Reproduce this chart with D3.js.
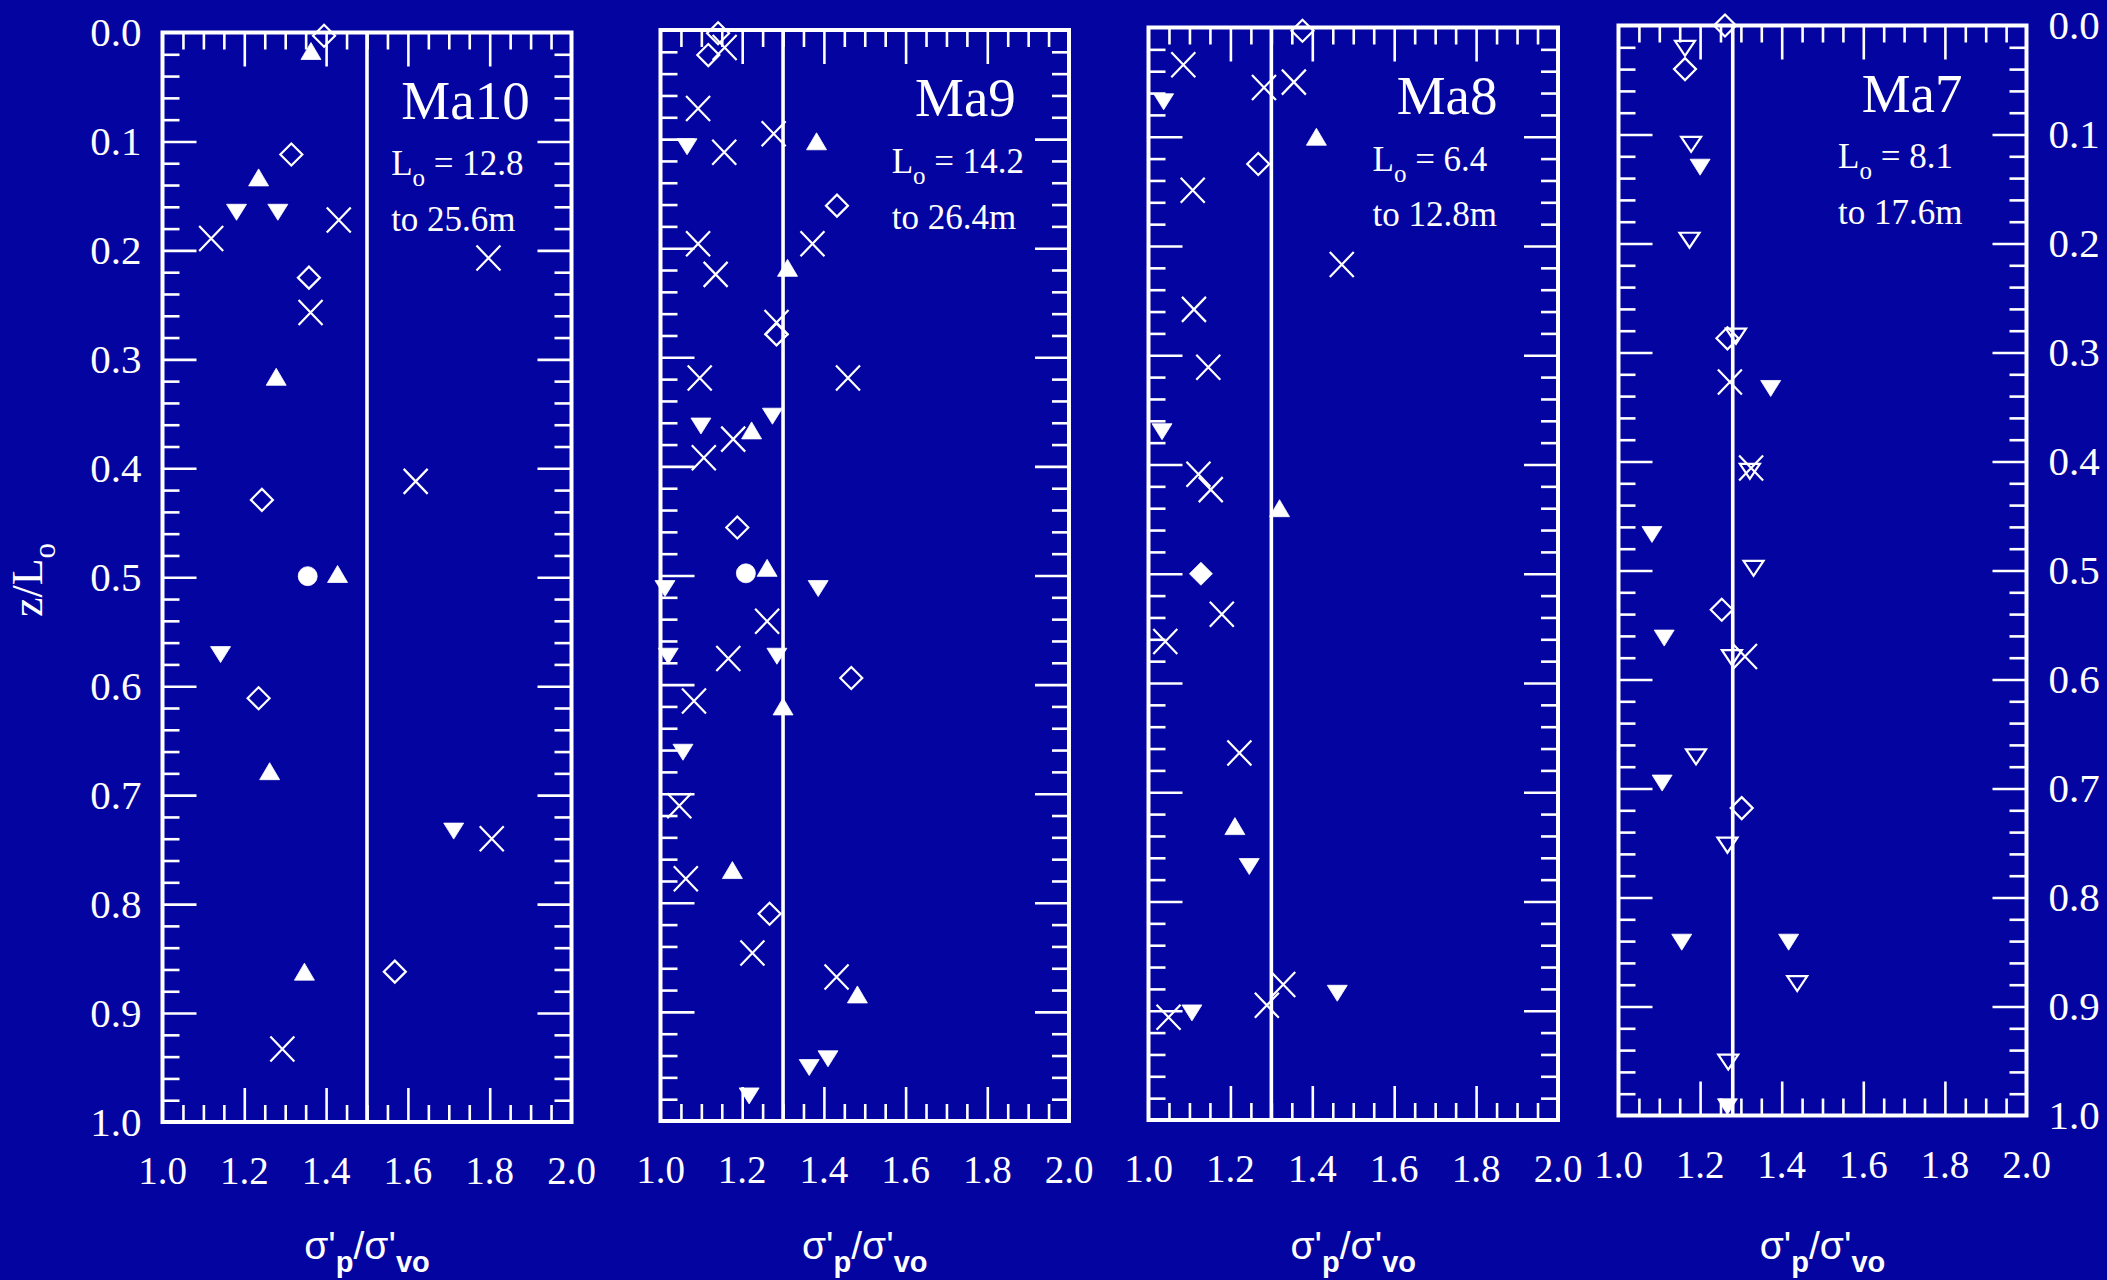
<!DOCTYPE html>
<html>
<head>
<meta charset="utf-8">
<script src="https://cdn.jsdelivr.net/npm/d3@7/dist/d3.min.js"></script>
<style>
  html, body { margin: 0; padding: 0; background: #0404A0; }
  svg { display: block; }
</style>
</head>
<body>
<script>
// ---------------- DATA ----------------
const panelNames = ["Ma10", "Ma9", "Ma8", "Ma7"];
const loFrom = ["12.8", "14.2", "6.4", "8.1"];
const loTo = ["25.6m", "26.4m", "12.8m", "17.6m"];
const refValues = [1.5, 1.3, 1.3, 1.28];
const xTickLabels = ["1.0", "1.2", "1.4", "1.6", "1.8", "2.0"];
const yTickLabels = ["0.0", "0.1", "0.2", "0.3", "0.4", "0.5", "0.6", "0.7", "0.8", "0.9", "1.0"];

// [sigma'p/sigma'vo, z/Lo]
const ma10TriUp = [[1.363,0.017],[1.235,0.133],[1.278,0.316],[1.428,0.497],[1.262,0.678],[1.347,0.862]];
const ma10TriDown = [[1.181,0.165],[1.282,0.165],[1.142,0.571],[1.712,0.733]];
const ma10Cross = [[1.431,0.172],[1.119,0.189],[1.797,0.207],[1.362,0.257],[1.619,0.412],[1.805,0.740],[1.293,0.933]];
const ma10Diamond = [[1.395,0.003],[1.315,0.112],[1.358,0.225],[1.243,0.429],[1.235,0.611],[1.568,0.862]];
const ma10Circle = [[1.355,0.499]];

const ma9TriUp = [[1.382,0.102],[1.311,0.218],[1.223,0.367],[1.261,0.493],[1.300,0.620],[1.176,0.770],[1.482,0.884]];
const ma9TriDown = [[1.065,0.107],[1.274,0.354],[1.099,0.363],[1.011,0.512],[1.386,0.512],[1.019,0.574],[1.285,0.574],[1.055,0.662],[1.410,0.943],[1.364,0.951],[1.217,0.977]];
const ma9Cross = [[1.157,0.016],[1.092,0.072],[1.277,0.095],[1.156,0.112],[1.092,0.196],[1.372,0.196],[1.135,0.224],[1.284,0.268],[1.096,0.319],[1.459,0.319],[1.178,0.375],[1.106,0.392],[1.261,0.542],[1.166,0.576],[1.082,0.615],[1.046,0.711],[1.062,0.778],[1.225,0.846],[1.431,0.868]];
const ma9Diamond = [[1.141,0.003],[1.117,0.023],[1.432,0.161],[1.284,0.279],[1.188,0.456],[1.467,0.594],[1.267,0.810]];
const ma9Circle = [[1.209,0.498]];

const ma8TriUp = [[1.410,0.100],[1.320,0.440],[1.211,0.731]];
const ma8TriDown = [[1.037,0.068],[1.033,0.370],[1.246,0.768],[1.461,0.884],[1.106,0.902]];
const ma8Cross = [[1.085,0.034],[1.282,0.055],[1.355,0.050],[1.108,0.149],[1.472,0.217],[1.111,0.258],[1.146,0.311],[1.122,0.409],[1.152,0.423],[1.179,0.537],[1.041,0.562],[1.222,0.664],[1.329,0.876],[1.289,0.895],[1.049,0.906]];
const ma8Diamond = [[1.376,0.003],[1.268,0.125]];
const ma8DiamondFilled = [[1.128,0.500]];

const ma7TriDown = [[1.200,0.130],[1.373,0.333],[1.082,0.467],[1.112,0.562],[1.107,0.695],[1.155,0.841],[1.417,0.841],[1.267,0.992]];
const ma7TriDownOpen = [[1.163,0.021],[1.178,0.109],[1.174,0.197],[1.288,0.285],[1.322,0.409],[1.331,0.498],[1.278,0.580],[1.190,0.671],[1.267,0.752],[1.438,0.879],[1.269,0.951]];
const ma7Cross = [[1.273,0.327],[1.325,0.406],[1.310,0.579]];
const ma7Diamond = [[1.261,0.000],[1.163,0.040],[1.267,0.287],[1.253,0.536],[1.302,0.718]];

const panelSeries = [
  {triUp: ma10TriUp, triDown: ma10TriDown, cross: ma10Cross, diamond: ma10Diamond, circle: ma10Circle},
  {triUp: ma9TriUp, triDown: ma9TriDown, cross: ma9Cross, diamond: ma9Diamond, circle: ma9Circle},
  {triUp: ma8TriUp, triDown: ma8TriDown, cross: ma8Cross, diamond: ma8Diamond, diamondFilled: ma8DiamondFilled},
  {triDown: ma7TriDown, triDownOpen: ma7TriDownOpen, cross: ma7Cross, diamond: ma7Diamond}
];

// ---------------- LAYOUT ----------------
const W = 2107, H = 1280;
const BG = "#0404A0";
const frames = [
  {l: 162.5, r: 571.5, t: 32.5, b: 1122},
  {l: 660.5, r: 1069, t: 30, b: 1121},
  {l: 1148.5, r: 1558, t: 27.5, b: 1120},
  {l: 1618.5, r: 2026.5, t: 25.5, b: 1115.5}
];
const annotX = {ma: [1.584, 1.623, 1.606, 1.596], lo: [1.559, 1.566, 1.547, 1.538]};
const SERIF = "'Liberation Serif', 'Times New Roman', serif";
const SANS = "'Liberation Sans', Arial, sans-serif";

const svg = d3.select("body").append("svg").attr("width", W).attr("height", H);
svg.append("rect").attr("width", W).attr("height", H).attr("fill", BG);

// symbol shapes (centered)
const shapes = {
  triUp: "M0,-8.5L10,8.5L-10,8.5Z",
  triDown: "M-10,-8L10,-8L0,8Z",
  triDownOpen: "M-10,-7.5L10,-7.5L0,7.5Z",
  cross: "M-12,-12.5L12,12.5M-12,12.5L12,-12.5",
  diamond: "M0,-11L11,0L0,11L-11,0Z",
  diamondFilled: "M0,-11.5L11.5,0L0,11.5L-11.5,0Z",
  circle: d3.symbol(d3.symbolCircle, Math.PI * 9.5 * 9.5)()
};
const filled = {triUp: true, triDown: true, diamondFilled: true, circle: true};

const xMinor = d3.range(1, 20).filter(k => k % 4 !== 0).map(k => 1 + k * 0.05);
const xMajor = d3.range(1, 5).map(k => 1 + k * 0.2);
const yMinor = d3.range(1, 50).filter(k => k % 5 !== 0).map(k => k * 0.02);
const yMajor = d3.range(1, 10).map(k => k * 0.1);

function styleAxis(sel) {
  sel.select(".domain").remove();
  sel.selectAll(".tick line").attr("stroke", "white").attr("stroke-width", 2.6);
  sel.selectAll(".tick text").remove();
}

panelNames.forEach((name, i) => {
  const f = frames[i];
  const x = d3.scaleLinear().domain([1, 2]).range([f.l, f.r]);
  const y = d3.scaleLinear().domain([0, 1]).range([f.t, f.b]);
  const g = svg.append("g");

  // ticks (inward)
  [[xMinor, 17], [xMajor, 34]].forEach(([vals, len]) => {
    g.append("g").attr("transform", `translate(0,${f.t})`)
      .call(d3.axisBottom(x).tickValues(vals).tickSize(len)).call(styleAxis);
    g.append("g").attr("transform", `translate(0,${f.b})`)
      .call(d3.axisTop(x).tickValues(vals).tickSize(len)).call(styleAxis);
  });
  [[yMinor, 17], [yMajor, 34]].forEach(([vals, len]) => {
    g.append("g").attr("transform", `translate(${f.l},0)`)
      .call(d3.axisRight(y).tickValues(vals).tickSize(len)).call(styleAxis);
    g.append("g").attr("transform", `translate(${f.r},0)`)
      .call(d3.axisLeft(y).tickValues(vals).tickSize(len)).call(styleAxis);
  });

  // frame
  g.append("rect").attr("x", f.l).attr("y", f.t)
    .attr("width", f.r - f.l).attr("height", f.b - f.t)
    .attr("fill", "none").attr("stroke", "white").attr("stroke-width", 4);

  // reference line
  g.append("line").attr("x1", x(refValues[i])).attr("x2", x(refValues[i]))
    .attr("y1", y(0)).attr("y2", y(1))
    .attr("stroke", "white").attr("stroke-width", 3.6);

  // x tick labels
  g.selectAll(".xl").data(xTickLabels).enter().append("text")
    .attr("x", d => x(+d)).attr("y", f.b + 62)
    .attr("text-anchor", "middle").attr("fill", "white")
    .attr("font-family", SERIF).attr("font-size", 39).text(d => d);

  // y tick labels
  if (i === 0) {
    g.selectAll(".yl").data(yTickLabels).enter().append("text")
      .attr("x", f.l - 21).attr("y", d => y(+d)).attr("dy", "0.34em")
      .attr("text-anchor", "end").attr("fill", "white")
      .attr("font-family", SERIF).attr("font-size", 41).text(d => d);
  }
  if (i === 3) {
    g.selectAll(".yr").data(yTickLabels).enter().append("text")
      .attr("x", f.r + 22).attr("y", d => y(+d)).attr("dy", "0.34em")
      .attr("text-anchor", "start").attr("fill", "white")
      .attr("font-family", SERIF).attr("font-size", 41).text(d => d);
  }

  // x axis title
  const xt = g.append("text").attr("x", (f.l + f.r) / 2).attr("y", 1259)
    .attr("text-anchor", "middle").attr("fill", "white")
    .attr("font-family", SANS).attr("font-size", 39);
  xt.append("tspan").text("σ'");
  xt.append("tspan").attr("dy", 13).attr("font-size", 29).attr("font-weight", "bold").text("p");
  xt.append("tspan").attr("dy", -13).text("/σ'");
  xt.append("tspan").attr("dy", 13).attr("font-size", 29).attr("font-weight", "bold").text("vo");

  // annotations
  g.append("text").attr("x", x(annotX.ma[i])).attr("y", y(0.079))
    .attr("fill", "white").attr("font-family", SERIF).attr("font-size", 55).text(name);
  const lt = g.append("text").attr("x", x(annotX.lo[i])).attr("y", y(0.131))
    .attr("fill", "white").attr("font-family", SERIF).attr("font-size", 35);
  lt.append("tspan").text("L");
  lt.append("tspan").attr("dy", 11).attr("font-size", 25).text("o");
  lt.append("tspan").attr("dy", -11).text(" = " + loFrom[i]);
  g.append("text").attr("x", x(annotX.lo[i])).attr("y", y(0.182))
    .attr("fill", "white").attr("font-family", SERIF).attr("font-size", 35)
    .text("to " + loTo[i]);

  // markers
  const series = panelSeries[i];
  Object.keys(series).forEach(type => {
    g.selectAll(null).data(series[type]).enter().append("path")
      .attr("transform", d => `translate(${x(d[0])},${y(d[1])})`)
      .attr("d", shapes[type])
      .attr("fill", filled[type] ? "white" : "none")
      .attr("stroke", "white")
      .attr("stroke-width", filled[type] ? 0.8 : 2.2);
  });
});

// y axis title
const yt = svg.append("text")
  .attr("transform", "translate(42,580) rotate(-90)")
  .attr("text-anchor", "middle").attr("fill", "white")
  .attr("font-family", SERIF).attr("font-size", 44);
yt.append("tspan").text("z/L");
yt.append("tspan").attr("dy", 13).attr("font-size", 31).text("o");
</script>
</body>
</html>
